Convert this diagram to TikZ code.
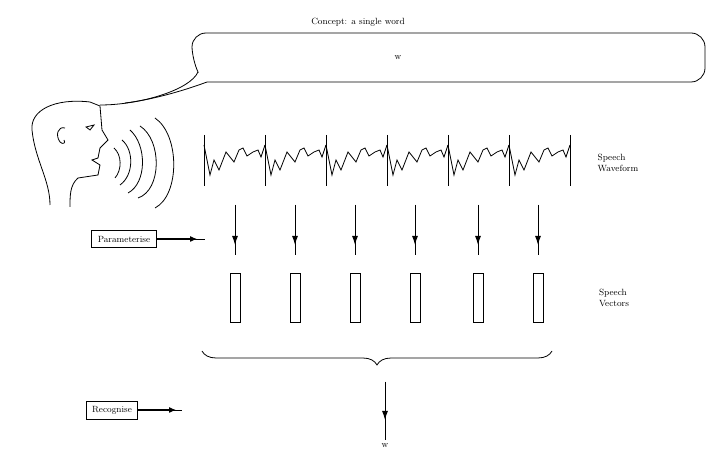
\documentclass[tikz,border=0pt]{standalone}
\usepackage{amsmath,amssymb}
\usepackage{xcolor}
\usetikzlibrary{decorations.pathreplacing,arrows.meta}

\tikzset{
  box/.style={draw, line width=0.8pt, inner xsep=6pt, inner ysep=5pt, font=\small},
  dnarrow/.style={line width=1pt, -{Latex[length=9pt,width=6pt]}},
  vec/.style={draw, line width=0.8pt}
}

\begin{document}
\begin{tikzpicture}[x=1pt,y=-1pt, line width=0.8pt]

    \useasboundingbox (0,0) rectangle (716,457);

    % bocadillo con el concepto
    \node[font=\small] (concept) at (358,22) {Concept: a single word};
    \draw[rounded corners=14pt] (198,72) -- (192,60) -- (192,33) -- (705,33) -- (705,82) -- (207,82);
    \draw (198,72) .. controls (190,90) and (140,105) .. (100,105);
    \draw (207,82) .. controls (180,92) and (150,100) .. (125,103);
    \node[font=\small] (word) at (398,58) {w};

    % cabeza
    \draw (50,205) .. controls (50,180) and (35,160) .. (32,130)
          .. controls (30,110) and (55,98) .. (90,102) -- (100,106)
          -- (102,130) -- (108,140) -- (100,148) -- (98,158) -- (92,160)
          -- (100,165) -- (98,175) -- (78,178) .. controls (70,185) and (70,195) .. (70,207);
    \draw (65,128) .. controls (58,126) and (55,135) .. (60,142) .. controls (63,145) and (66,143) .. (64,140);
    \draw (86,127) -- (94,125) -- (90,130) -- cycle;

    % ondas de voz
    \draw (114,148) .. controls (122,155) and (122,170) .. (115,178);
    \draw (122,140) .. controls (134,150) and (134,175) .. (120,185);
    \draw (130,130) .. controls (147,145) and (147,183) .. (128,193);
    \draw (140,126) .. controls (162,140) and (162,190) .. (138,198);
    \draw (155,118) .. controls (180,135) and (180,195) .. (155,208);

    % forma de onda
    \foreach \x in {204,265,326,387,448,509} {
      \draw (\x,135) -- (\x,186);
      \draw (\x,145) -- (\x+6,175) -- (\x+10,160) -- (\x+15,170) -- (\x+22,152)
            -- (\x+30,162) -- (\x+35,150) -- (\x+39,148) -- (\x+43,156)
            -- (\x+49,152) -- (\x+54,150) -- (\x+57,157) -- (\x+61,145);
    }
    \draw (570,135) -- (570,186);
    \node[font=\small, align=left] (wave) at (618,163) {Speech\\Waveform};

    % parametrizacion
    \node[box] (param) at (124,239) {Parameterise};
    \coordinate (ptip) at (205,239);
    \draw[line width=1pt, -{Latex[length=7pt,width=6pt]}] (param.east) -- ([xshift=-8pt]ptip);
    \draw (param.east) -- (ptip);

    \foreach \x in {235,295,355,415,478,538} {
      \draw[dnarrow] (\x,205) -- (\x,245);
      \draw (\x,205) -- (\x,255);
      \draw[vec] (\x-5,273) rectangle (\x+5,322);
    }
    \node[font=\small, align=left] (vecs) at (614,298) {Speech\\Vectors};

    % reconocimiento
    \draw[decorate, decoration={brace, mirror, amplitude=14pt}] (202,351) -- (552,351);
    \node[box] (recog) at (112,410) {Recognise};
    \coordinate (rtip) at (182,410);
    \draw[line width=1pt, -{Latex[length=7pt,width=6pt]}] (recog.east) -- ([xshift=-6pt]rtip);
    \draw (recog.east) -- (rtip);

    \node[font=\small] (out) at (385,446) {w};
    \coordinate (btip) at (385,382);
    \draw[dnarrow] (btip) -- (385,420);
    \draw (btip) -- (out.north);

\end{tikzpicture}
\end{document}
